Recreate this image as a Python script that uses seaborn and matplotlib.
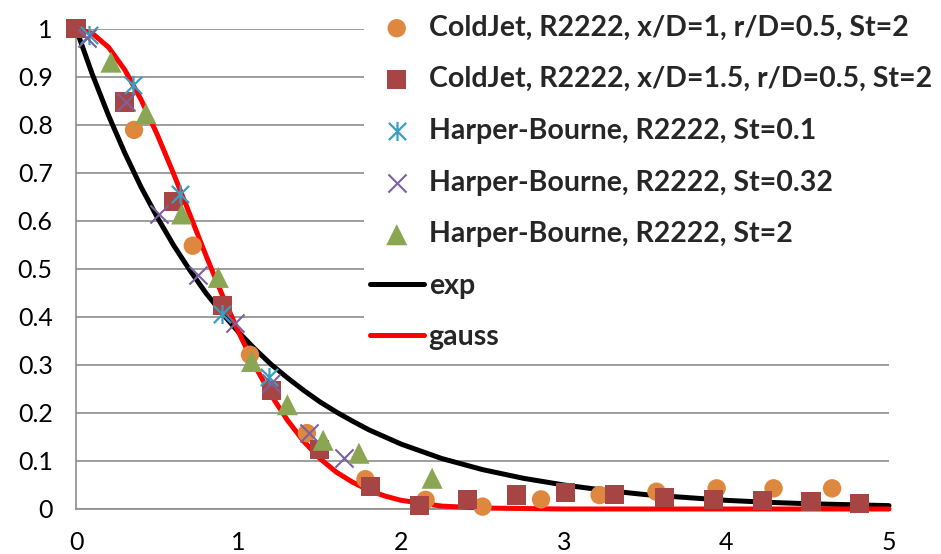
import numpy as np
import pandas as pd
import seaborn as sns
import matplotlib.pyplot as plt
from matplotlib.path import Path

coldjet1_x = [0, 0.357, 0.718, 1.07, 1.42, 1.78, 2.15, 2.50, 2.86, 3.22, 3.57, 3.94, 4.29, 4.65]
coldjet1_y = [1.0, 0.789, 0.548, 0.321, 0.158, 0.062, 0.019, 0.005, 0.020, 0.029, 0.036, 0.043, 0.043, 0.043]

coldjet15_x = [0, 0.30, 0.60, 0.90, 1.20, 1.50, 1.81, 2.11, 2.41, 2.71, 3.01, 3.31, 3.62, 3.92, 4.22, 4.52, 4.82]
coldjet15_y = [1.0, 0.847, 0.64, 0.424, 0.247, 0.123, 0.047, 0.008, 0.020, 0.029, 0.034, 0.031, 0.024, 0.020, 0.017, 0.015, 0.012]

hb01_x = [0.08, 0.35, 0.64, 0.90, 1.19]
hb01_y = [0.987, 0.883, 0.656, 0.405, 0.275]

hb032_x = [0.07, 0.31, 0.51, 0.75, 0.98, 1.20, 1.43, 1.65]
hb032_y = [0.98, 0.846, 0.614, 0.486, 0.388, 0.262, 0.159, 0.106]

hb2_x = [0.215, 0.43, 0.65, 0.875, 1.08, 1.30, 1.52, 1.74, 2.19]
hb2_y = [0.93, 0.823, 0.614, 0.482, 0.307, 0.217, 0.143, 0.116, 0.064]

# model curves
fit_x = [0, 0.1, 0.2, 0.3, 0.4, 0.5, 0.6, 0.7, 0.8, 0.9, 1.0, 1.1, 1.2, 1.3, 1.4,
         1.5, 1.6, 1.7, 1.8, 1.9, 2.0, 2.25, 2.5, 2.75, 3.0, 3.25, 3.5, 3.75,
         4.0, 4.25, 4.5, 4.75, 5.0]
exp_y = [1.0, 0.905, 0.819, 0.741, 0.670, 0.607, 0.549, 0.497, 0.449, 0.407, 0.368,
         0.333, 0.301, 0.273, 0.247, 0.223, 0.202, 0.183, 0.165, 0.150, 0.135,
         0.105, 0.082, 0.064, 0.050, 0.039, 0.030, 0.024, 0.018, 0.014, 0.011,
         0.009, 0.007]
gauss_y = [1.0, 0.990, 0.961, 0.914, 0.852, 0.779, 0.698, 0.613, 0.527, 0.445, 0.368,
           0.298, 0.237, 0.185, 0.141, 0.105, 0.077, 0.056, 0.039, 0.027, 0.018,
           0.006, 0.002, 0.001, 0.0, 0.0, 0.0, 0.0, 0.0, 0.0, 0.0, 0.0, 0.0]

x_ticks = [0, 1, 2, 3, 4, 5]
y_ticks = [0, 0.1, 0.2, 0.3, 0.4, 0.5, 0.6, 0.7, 0.8, 0.9, 1]
y_ticklabels = ["0", "0.1", "0.2", "0.3", "0.4", "0.5", "0.6", "0.7", "0.8", "0.9", "1"]

labels_order = ["ColdJet, R2222, x/D=1, r/D=0.5, St=2",
                "ColdJet, R2222, x/D=1.5, r/D=0.5, St=2",
                "Harper-Bourne, R2222, St=0.1",
                "Harper-Bourne, R2222, St=0.32",
                "Harper-Bourne, R2222, St=2",
                "exp",
                "gauss"]

sns.set_style("white")
plt.rcParams['font.family'] = ['Lato', 'DejaVu Sans']

GRID = '#8c8c8c'
TEAL = '#3a9ebc'

fig = plt.figure(figsize=(9.41, 5.54), dpi=100)
ax = fig.add_axes([76 / 941, 1 - 509 / 554, (889 - 76) / 941, (509 - 28.5) / 554])

# excel style asterisk: an x with a vertical bar
star = Path([(0, -0.5), (0, 0.5), (-0.45, -0.45), (0.45, 0.45), (-0.45, 0.45), (0.45, -0.45)],
            [Path.MOVETO, Path.LINETO, Path.MOVETO, Path.LINETO, Path.MOVETO, Path.LINETO])

sns.lineplot(x=fit_x, y=exp_y, color='black', lw=3.6, label="exp", ax=ax,
             zorder=3, clip_on=False)
sns.lineplot(x=fit_x, y=gauss_y, color='#ff0000', lw=3.6, label="gauss", ax=ax,
             zorder=3, clip_on=False)

sns.scatterplot(x=coldjet1_x, y=coldjet1_y, marker='o', s=175, color='#dd883e',
                edgecolor='none', label=labels_order[0], ax=ax, zorder=4, clip_on=False)
sns.scatterplot(x=coldjet15_x, y=coldjet15_y, marker='s', s=190, color='#a64544',
                edgecolor='none', label=labels_order[1], ax=ax, zorder=5, clip_on=False)
sns.scatterplot(x=hb01_x, y=hb01_y, marker=star, s=190, color=TEAL, edgecolor=TEAL,
                linewidth=1.6, label=labels_order[2], ax=ax, zorder=6, clip_on=False)
sns.scatterplot(x=hb032_x, y=hb032_y, marker='x', s=170, color='#7a62a0',
                linewidth=1.5, label=labels_order[3], ax=ax, zorder=7, clip_on=False)
sns.scatterplot(x=hb2_x, y=hb2_y, marker='^', s=230, color='#8aa652',
                edgecolor='none', label=labels_order[4], ax=ax, zorder=8, clip_on=False)

ax.set_xlim(0, 5)
ax.set_ylim(0, 1)
ax.set_xticks(x_ticks)
ax.set_xticklabels([str(t) for t in x_ticks])
ax.set_yticks(y_ticks)
ax.set_yticklabels(y_ticklabels)

ax.set_axisbelow(True)
ax.yaxis.grid(True, color=GRID, lw=1.2)
ax.xaxis.grid(False)
sns.despine(ax=ax)
for side in ['left', 'bottom']:
    ax.spines[side].set_color(GRID)
    ax.spines[side].set_linewidth(1.2)
ax.tick_params(axis='both', direction='out', length=5.8, width=1.2, color=GRID,
               labelsize=18, labelcolor='black')
ax.tick_params(axis='y', pad=11)
ax.tick_params(axis='x', pad=10)
ax.set_xlabel("")
ax.set_ylabel("")

handles, labels = ax.get_legend_handles_labels()
lookup = dict(zip(labels, handles))
leg = ax.legend([lookup[l] for l in labels_order], labels_order,
                loc='upper left', bbox_to_anchor=(364 / 941, 1 - 9 / 554),
                bbox_transform=fig.transFigure, frameon=True, facecolor='white',
                edgecolor='none', framealpha=1, fancybox=False, borderpad=0.2,
                borderaxespad=0, labelspacing=0.9, handlelength=1.9,
                handletextpad=0.17, scatterpoints=1,
                prop={'family': 'Lato', 'weight': 'bold', 'size': 20.5})
leg.set_zorder(10)

fig.savefig("out.png", dpi=100)
